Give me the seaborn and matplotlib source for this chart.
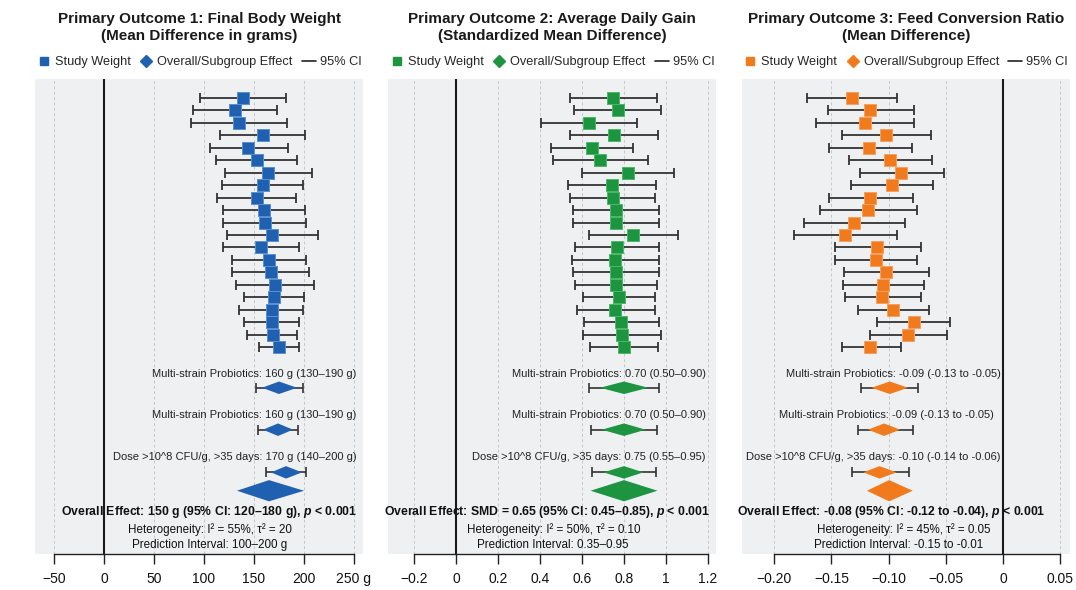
import numpy as np
import pandas as pd
import matplotlib
matplotlib.use("Agg")
import matplotlib.pyplot as plt
from matplotlib.lines import Line2D
import seaborn as sns

# ---------------- DATA ----------------
# Panel 1: Final body weight (mean difference, g)
fbw_est = [139, 131, 135, 159, 144, 153, 164, 159, 153, 160, 161, 168, 157, 165, 167, 171, 170, 168, 168, 169, 175]
fbw_lo = [96, 89, 87, 116, 106, 112, 121, 118, 113, 119, 119, 123, 119, 128, 128, 132, 140, 135, 140, 143, 155]
fbw_hi = [182, 173, 183, 201, 184, 193, 208, 199, 192, 201, 202, 214, 195, 202, 205, 210, 200, 199, 195, 193, 195]
fbw_sub_est = [175, 174, 182]
fbw_sub_dlo = [158, 159, 167]
fbw_sub_dhi = [193, 189, 198]
fbw_sub_lo = [152, 154, 162]
fbw_sub_hi = [199, 194, 202]
fbw_all = [165, 133, 200]          # centre, left, right of overall diamond
fbw_ticks = [-50, 0, 50, 100, 150, 200, 250]
fbw_ticklabels = ["\u221250", "0", "50", "100", "150", "200", "250 g"]
fbw_sub_labels = ["Multi-strain Probiotics: 160 g (130\u2013190 g)",
                  "Multi-strain Probiotics: 160 g (130\u2013190 g)",
                  "Dose >10^8 CFU/g, >35 days: 170 g (140\u2013200 g)"]
fbw_summary = ["Overall Effect: 150 g (95% CI: 120\u2013180 g), $p$ < 0.001",
               "Heterogeneity: I\u00b2 = 55%, \u03c4\u00b2 = 20",
               "Prediction Interval: 100\u2013200 g"]
fbw_title = "Primary Outcome 1: Final Body Weight\n(Mean Difference in grams)"

# Panel 2: Average daily gain (SMD)
adg_est = [0.748, 0.770, 0.633, 0.751, 0.648, 0.687, 0.819, 0.741, 0.746, 0.762, 0.764, 0.845, 0.767, 0.759, 0.762, 0.762, 0.776, 0.759, 0.786, 0.792, 0.800]
adg_lo = [0.541, 0.562, 0.405, 0.541, 0.451, 0.462, 0.600, 0.532, 0.544, 0.559, 0.559, 0.633, 0.565, 0.552, 0.557, 0.567, 0.605, 0.575, 0.610, 0.606, 0.640]
adg_hi = [0.959, 0.976, 0.864, 0.963, 0.845, 0.916, 1.040, 0.954, 0.948, 0.965, 0.968, 1.057, 0.968, 0.968, 0.968, 0.959, 0.948, 0.948, 0.967, 0.978, 0.960]
adg_sub_est = [0.80, 0.80, 0.80]
adg_sub_dlo = [0.686, 0.694, 0.702]
adg_sub_dhi = [0.916, 0.903, 0.892]
adg_sub_lo = [0.635, 0.643, 0.648]
adg_sub_hi = [0.967, 0.959, 0.954]
adg_all = [0.80, 0.641, 0.959]
adg_ticks = [-0.2, 0, 0.2, 0.4, 0.6, 0.8, 1.0, 1.2]
adg_ticklabels = ["\u22120.2", "0", "0.2", "0.4", "0.6", "0.8", "1", "1.2"]
adg_sub_labels = ["Multi-strain Probiotics: 0.70 (0.50\u20130.90)",
                  "Multi-strain Probiotics: 0.70 (0.50\u20130.90)",
                  "Dose >10^8 CFU/g, >35 days: 0.75 (0.55\u20130.95)"]
adg_summary = ["Overall Effect: SMD = 0.65 (95% CI: 0.45\u20130.85), $p$ < 0.001",
               "Heterogeneity: I\u00b2 = 50%, \u03c4\u00b2 = 0.10",
               "Prediction Interval: 0.35\u20130.95"]
adg_title = "Primary Outcome 2: Average Daily Gain\n(Standardized Mean Difference)"

# Panel 3: Feed conversion ratio (mean difference)
fcr_est = [-0.132, -0.116, -0.121, -0.102, -0.117, -0.099, -0.089, -0.097, -0.116, -0.118, -0.130, -0.138, -0.110, -0.111, -0.102, -0.105, -0.106, -0.096, -0.078, -0.083, -0.116]
fcr_lo = [-0.171, -0.153, -0.163, -0.141, -0.152, -0.135, -0.125, -0.133, -0.152, -0.160, -0.174, -0.183, -0.147, -0.147, -0.139, -0.140, -0.138, -0.127, -0.110, -0.116, -0.141]
fcr_hi = [-0.093, -0.078, -0.078, -0.063, -0.080, -0.062, -0.052, -0.061, -0.079, -0.075, -0.086, -0.093, -0.072, -0.075, -0.065, -0.069, -0.072, -0.065, -0.046, -0.049, -0.089]
fcr_sub_est = [-0.099, -0.104, -0.108]
fcr_sub_dlo = [-0.115, -0.118, -0.122]
fcr_sub_dhi = [-0.083, -0.090, -0.093]
fcr_sub_lo = [-0.124, -0.127, -0.132]
fcr_sub_hi = [-0.074, -0.079, -0.082]
fcr_all = [-0.0995, -0.119, -0.079]
fcr_ticks = [-0.20, -0.15, -0.10, -0.05, 0, 0.05]
fcr_ticklabels = ["\u22120.20", "\u22120.15", "\u22120.10", "\u22120.05", "0", "0.05"]
fcr_sub_labels = ["Multi-strain Probiotics: -0.09 (-0.13 to -0.05)",
                  "Multi-strain Probiotics: -0.09 (-0.13 to -0.05)",
                  "Dose >10^8 CFU/g, >35 days: -0.10 (-0.14 to -0.06)"]
fcr_summary = ["Overall Effect: -0.08 (95% CI: -0.12 to -0.04), $p$ < 0.001",
               "Heterogeneity: I\u00b2 = 45%, \u03c4\u00b2 = 0.05",
               "Prediction Interval: -0.15 to -0.01"]
fcr_title = "Primary Outcome 3: Feed Conversion Ratio\n(Mean Difference)"

legend_labels = ["Study Weight", "Overall/Subgroup Effect", "95% CI"]

# ---------------- STYLE / LAYOUT ----------------
sns.set_theme(style="white")
plt.rcParams['font.family'] = ['Liberation Sans', 'DejaVu Sans']
plt.rcParams['mathtext.fontset'] = 'custom'
plt.rcParams['mathtext.it'] = 'Liberation Sans:italic:bold'
plt.rcParams['mathtext.rm'] = 'Liberation Sans:bold'

BG = "#eef0f2"
panels = [
    dict(est=fbw_est, lo=fbw_lo, hi=fbw_hi, sest=fbw_sub_est, sdlo=fbw_sub_dlo, sdhi=fbw_sub_dhi,
         slo=fbw_sub_lo, shi=fbw_sub_hi, allv=fbw_all, ticks=fbw_ticks, tl=fbw_ticklabels,
         sl=fbw_sub_labels, summ=fbw_summary, title=fbw_title, color="#1f60b0", edge="#5a8fd0",
         xlim=(-69, 259), left=35, slx=[252.7, 252.7, 252.7], sumx=[104.7, 106, 106]),
    dict(est=adg_est, lo=adg_lo, hi=adg_hi, sest=adg_sub_est, sdlo=adg_sub_dlo, sdhi=adg_sub_dhi,
         slo=adg_sub_lo, shi=adg_sub_hi, allv=adg_all, ticks=adg_ticks, tl=adg_ticklabels,
         sl=adg_sub_labels, summ=adg_summary, title=adg_title, color="#1d9440", edge="#4cb868",
         xlim=(-0.3238, 1.2381), left=388, slx=[1.19, 1.19, 1.19], sumx=[0.432, 0.464, 0.463]),
    dict(est=fcr_est, lo=fcr_lo, hi=fcr_hi, sest=fcr_sub_est, sdlo=fcr_sub_dlo, sdhi=fcr_sub_dhi,
         slo=fcr_sub_lo, shi=fcr_sub_hi, allv=fcr_all, ticks=fcr_ticks, tl=fcr_ticklabels,
         sl=fcr_sub_labels, summ=fcr_summary, title=fcr_title, color="#f07a1c", edge="#f8a060",
         xlim=(-0.2283, 0.0581), left=741.7, slx=[-0.002, -0.008, -0.002], sumx=[-0.098, -0.087, -0.091]),
]

W, H = 1076, 590
fig = plt.figure(figsize=(W / 100, H / 100), dpi=100)
fig.patch.set_facecolor("white")

AX_TOP, AX_BOT, AX_W = 79, 554, 328
sub_text_y = [22.14, 25.4, 28.77]
sub_diam_y = [23.24, 26.6, 30.02]
overall_y = 31.49
summary_y = [33.22, 34.6, 35.84]

for p in panels:
    ax = fig.add_axes([p["left"] / W, (H - AX_BOT) / H, AX_W / W, (AX_BOT - AX_TOP) / H])
    ax.set_facecolor(BG)
    n = len(p["est"])
    df = pd.DataFrame({"est": p["est"], "lo": p["lo"], "hi": p["hi"], "row": np.arange(n)})

    ax.set_xlim(*p["xlim"])
    ax.set_ylim(36.56, -1.5)
    for t in p["ticks"]:
        ax.axvline(t, color="#c4c7ca", lw=0.7, ls=(0, (3, 2.5)), zorder=0)
    ax.axvline(0, color="#1a1a1a", lw=1.5, zorder=1)

    ax.errorbar(df["est"], df["row"], xerr=[df["est"] - df["lo"], df["hi"] - df["est"]],
                fmt="none", ecolor="#333333", elinewidth=1.3, capsize=3.5, capthick=1.3, zorder=2)
    sns.scatterplot(data=df, x="est", y="row", marker="s", s=70, color=p["color"],
                    edgecolor=p["edge"], linewidth=0.7, ax=ax, zorder=3, legend=False)

    # subgroup diamonds
    for k in range(3):
        yy = sub_diam_y[k]
        ax.errorbar([p["sest"][k]], [yy], xerr=[[p["sest"][k] - p["slo"][k]], [p["shi"][k] - p["sest"][k]]],
                    fmt="none", ecolor="#333333", elinewidth=1.2, capsize=3.5, capthick=1.2, zorder=2)
        ax.fill([p["sdlo"][k], p["sest"][k], p["sdhi"][k], p["sest"][k]],
                [yy, yy - 0.5, yy, yy + 0.5], color=p["color"], zorder=3, lw=0)
        ax.text(p["slx"][k], sub_text_y[k], p["sl"][k], ha="right", va="center",
                fontsize=8, color="#222222", zorder=4)
    c, l, r = p["allv"]
    ax.fill([l, c, r, c], [overall_y, overall_y - 0.85, overall_y, overall_y + 0.85],
            color=p["color"], zorder=3, lw=0)
    for k in range(3):
        ax.text(p["sumx"][k], summary_y[k], p["summ"][k], ha="center", va="center",
                fontsize=8.8 if k == 0 else 8.4, fontweight="bold" if k == 0 else "normal",
                color="#111111", zorder=4)

    ax.set_yticks([])
    ax.set_xlabel("")
    ax.set_ylabel("")
    ax.set_xticks(p["ticks"])
    ax.set_xticklabels(p["tl"])
    for s in ["top", "left", "right"]:
        ax.spines[s].set_visible(False)
    ax.spines["bottom"].set_visible(True)
    ax.spines["bottom"].set_color("#222222")
    ax.spines["bottom"].set_linewidth(1.0)
    ax.spines["bottom"].set_bounds(p["ticks"][0], p["ticks"][-1])
    ax.tick_params(axis="x", bottom=True, direction="out", length=7, width=1.0,
                   color="#222222", labelsize=10, pad=6, labelcolor="#111111")

    handles = [Line2D([], [], marker="s", color=p["color"], ls="None", markersize=5.5),
               Line2D([], [], marker="D", color=p["color"], ls="None", markersize=6),
               Line2D([], [], color="#222222", lw=1.2)]
    ax.legend(handles, legend_labels, loc="center", bbox_to_anchor=(0.5, 1 + (AX_TOP - 62) / (AX_BOT - AX_TOP)),
              ncol=3, frameon=False, fontsize=9.2, handlelength=1.1, handletextpad=0.3,
              columnspacing=0.7, borderaxespad=0, borderpad=0)

    fig.text((p["left"] + AX_W / 2) / W, 1 - 27.5 / H, p["title"], ha="center", va="center",
             fontsize=11, fontweight="bold", color="#1a1a1a", linespacing=1.35)

fig.savefig("out.png", dpi=100, facecolor="white")
